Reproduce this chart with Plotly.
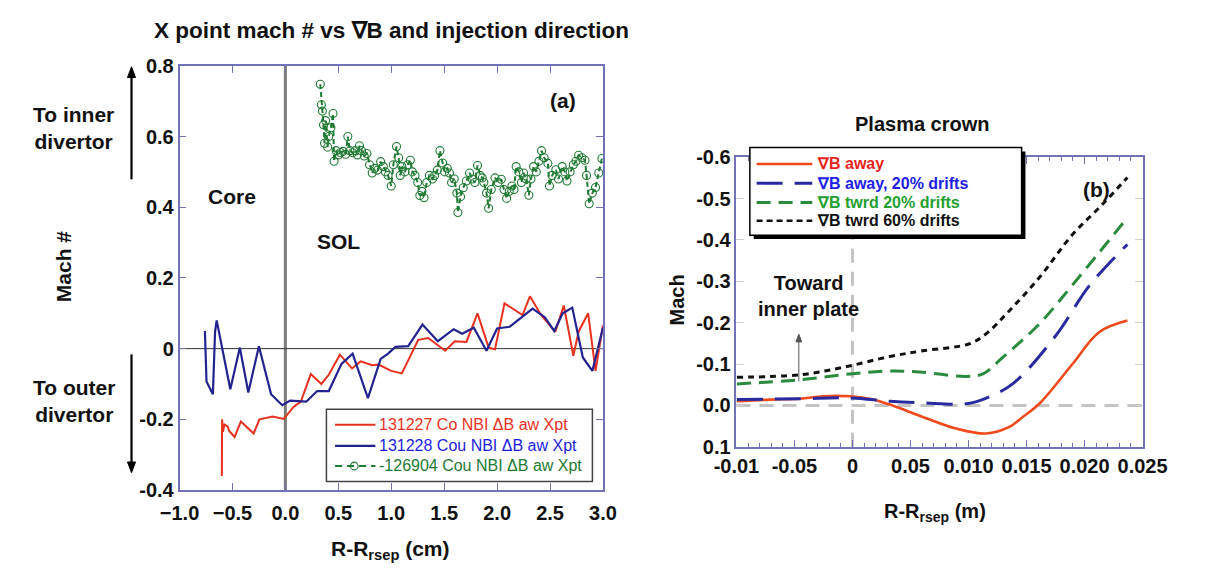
import plotly.graph_objects as go

# ---------------- data: panel (a) X-point Mach number ----------------
red_x = [-0.60, -0.598, -0.59, -0.575, -0.545, -0.53, -0.48, -0.42, -0.30, -0.245,
         -0.12, -0.015, 0.077, 0.146, 0.24, 0.34, 0.41, 0.515, 0.63, 0.71, 0.82,
         0.88, 1.0, 1.10, 1.255, 1.35, 1.51, 1.60, 1.71, 1.815, 1.92, 1.98, 2.07,
         2.24, 2.31, 2.42, 2.55, 2.63, 2.72, 2.77, 2.86, 2.93, 3.0]
red_y = [-0.36, -0.20, -0.235, -0.215, -0.22, -0.233, -0.25, -0.206, -0.24, -0.20,
         -0.192, -0.199, -0.165, -0.15, -0.072, -0.10, -0.074, -0.017, -0.056, -0.036, -0.047,
         -0.045, -0.063, -0.07, 0.025, 0.03, -0.006, 0.021, 0.019, 0.10, 0.003, -0.002, 0.128,
         0.095, 0.148, 0.093, 0.048, 0.122, -0.02, 0.048, 0.10, -0.063, 0.066]

blue_x = [-0.76, -0.755, -0.745, -0.685, -0.664, -0.649, -0.52, -0.43, -0.35, -0.25,
          -0.135, -0.03, 0.046, 0.197, 0.30, 0.41, 0.53, 0.635, 0.78, 0.90, 0.97,
          1.04, 1.16, 1.295, 1.44, 1.59, 1.67, 1.78, 1.90, 2.0, 2.12, 2.335, 2.45,
          2.54, 2.62, 2.71, 2.81, 2.90, 3.0]
blue_y = [0.05, 0.012, -0.093, -0.129, 0.048, 0.08, -0.115, 0.003, -0.124, 0.007,
          -0.129, -0.16, -0.147, -0.15, -0.12, -0.12, -0.043, -0.014, -0.14, -0.029, -0.014,
          0.005, 0.007, 0.068, 0.021, 0.055, 0.042, 0.059, -0.006, 0.057, 0.062, 0.113, 0.089,
          0.05, 0.10, 0.116, -0.025, -0.063, 0.06]

green_x = [0.33, 0.34, 0.35, 0.36, 0.37, 0.38, 0.40, 0.41, 0.43, 0.45,
           0.46, 0.48, 0.50, 0.52, 0.545, 0.57, 0.59, 0.61, 0.635, 0.66,
           0.68, 0.70, 0.72, 0.745, 0.77, 0.795, 0.82, 0.845, 0.87, 0.90,
           0.925, 0.945, 0.97, 1.00, 1.02, 1.05, 1.07, 1.085, 1.10, 1.13,
           1.155, 1.18, 1.20, 1.225, 1.25, 1.27, 1.29, 1.31, 1.335, 1.36,
           1.39, 1.41, 1.435, 1.46, 1.485, 1.505, 1.53, 1.55, 1.57, 1.595,
           1.62, 1.63, 1.655, 1.68, 1.71, 1.74, 1.765, 1.79, 1.815, 1.84,
           1.86, 1.875, 1.90, 1.92, 1.945, 1.98, 2.01, 2.04, 2.065, 2.09,
           2.115, 2.14, 2.16, 2.18, 2.205, 2.23, 2.25, 2.275, 2.30, 2.32,
           2.345, 2.37, 2.395, 2.42, 2.445, 2.48, 2.495, 2.52, 2.555, 2.58,
           2.615, 2.64, 2.66, 2.69, 2.72, 2.745, 2.77, 2.80, 2.83, 2.845,
           2.87, 2.90, 2.93, 2.96, 2.99]
green_y = [0.748, 0.690, 0.672, 0.633, 0.581, 0.645, 0.570, 0.600, 0.625, 0.665,
           0.530, 0.560, 0.548, 0.555, 0.558, 0.550, 0.600, 0.560, 0.554, 0.560,
           0.548, 0.574, 0.560, 0.545, 0.552, 0.520, 0.497, 0.510, 0.505, 0.529,
           0.515, 0.500, 0.490, 0.460, 0.520, 0.572, 0.540, 0.490, 0.515, 0.500,
           0.520, 0.533, 0.500, 0.490, 0.470, 0.433, 0.445, 0.427, 0.470, 0.490,
           0.480, 0.490, 0.505, 0.560, 0.525, 0.500, 0.510, 0.497, 0.470, 0.480,
           0.440, 0.385, 0.430, 0.455, 0.474, 0.497, 0.480, 0.470, 0.518, 0.490,
           0.483, 0.470, 0.440, 0.397, 0.450, 0.483, 0.470, 0.479, 0.450, 0.425,
           0.445, 0.460, 0.450, 0.515, 0.500, 0.470, 0.497, 0.480, 0.434, 0.480,
           0.515, 0.500, 0.530, 0.560, 0.540, 0.524, 0.460, 0.490, 0.506, 0.480,
           0.515, 0.500, 0.474, 0.500, 0.520, 0.530, 0.547, 0.540, 0.533, 0.490,
           0.410, 0.440, 0.456, 0.497, 0.538]

a_xticks = [-1.0, -0.5, 0.0, 0.5, 1.0, 1.5, 2.0, 2.5, 3.0]
a_yticks = [-0.4, -0.2, 0.0, 0.2, 0.4, 0.6, 0.8]
a_yticktext = ["-0.4", "-0.2", "0", "0.2", "0.4", "0.6", "0.8"]
a_legend = ["131227 Co NBI \u0394B aw Xpt",
            "131228 Cou NBI \u0394B aw Xpt",
            "-126904 Cou NBI \u0394B aw Xpt"]

# ---------------- data: panel (b) plasma crown Mach ----------------
away_x = [-0.00997, -0.0071, -0.00453, -0.00252, -0.00023, 0.00149, 0.00321, 0.00607,
          0.00894, 0.01151, 0.01352, 0.01467, 0.0161, 0.01896, 0.02125, 0.02369]
away_y = [-0.010, -0.014, -0.016, -0.022, -0.022, -0.016, -0.002, 0.028,
          0.056, 0.068, 0.052, 0.028, -0.004, -0.100, -0.177, -0.205]

away20_x = [-0.00997, -0.00453, -0.00023, 0.00321, 0.00607, 0.0098, 0.01137,
            0.0138, 0.01753, 0.0204, 0.02369]
away20_y = [-0.014, -0.016, -0.018, -0.010, -0.006, -0.004, -0.016,
            -0.052, -0.169, -0.289, -0.389]

twrd20_x = [-0.00997, -0.00453, -0.00023, 0.00321, 0.00607, 0.0098, 0.01123,
            0.01295, 0.0161, 0.01925, 0.02369]
twrd20_y = [-0.052, -0.062, -0.076, -0.083, -0.080, -0.070, -0.076,
            -0.116, -0.197, -0.301, -0.454]

twrd60_x = [-0.00997, -0.00453, -0.0008, 0.00321, 0.00607, 0.01008, 0.01151,
            0.01352, 0.0161, 0.01896, 0.02154, 0.02369]
twrd60_y = [-0.068, -0.074, -0.092, -0.118, -0.132, -0.149, -0.173,
            -0.229, -0.309, -0.413, -0.486, -0.551]

b_xticks = [-0.01, -0.005, 0.0, 0.005, 0.01, 0.015, 0.02, 0.025]
b_xticktext = ["-0.01", "-0.05", "0", "0.05", "0.010", "0.015", "0.020", "0.025"]
b_yticks = [-0.6, -0.5, -0.4, -0.3, -0.2, -0.1, 0.0, 0.1]
b_yticktext = ["-0.6", "-0.5", "-0.4", "-0.3", "-0.2", "-0.1", "0.0", "0.1"]
b_legend = ["\u2207B away", "\u2207B away, 20% drifts",
            "\u2207B twrd 20% drifts", "\u2207B twrd 60% drifts"]

# ---------------- styling ----------------
W, H = 1206, 578
FONT = "Liberation Sans, Arial, sans-serif"
FRAME = "#7272b8"

RED_A, BLUE_A, GREEN_A = "#e8301f", "#23238f", "#1f7a32"
RED_B, BLUE_B, GREEN_B, BLACK_B = "#f04a1c", "#2a2aa0", "#2a8a3e", "#111111"


def px(x):
    return x / W


def py(y):
    return 1 - y / H


fig = go.Figure()

# panel (a) traces
fig.add_trace(go.Scatter(x=red_x, y=red_y, mode="lines", name=a_legend[0],
                         line=dict(color=RED_A, width=2), xaxis="x", yaxis="y"))
fig.add_trace(go.Scatter(x=blue_x, y=blue_y, mode="lines", name=a_legend[1],
                         line=dict(color=BLUE_A, width=2.2), xaxis="x", yaxis="y"))
fig.add_trace(go.Scatter(x=green_x, y=green_y, mode="lines+markers", name=a_legend[2],
                         line=dict(color=GREEN_A, width=2, dash="5px,3px"),
                         marker=dict(symbol="circle-open", size=8, color=GREEN_A,
                                     line=dict(width=1.1, color=GREEN_A)),
                         xaxis="x", yaxis="y"))

# panel (b) traces
fig.add_trace(go.Scatter(x=away_x, y=away_y, mode="lines", name=b_legend[0],
                         line=dict(color=RED_B, width=2.6, shape="spline"), xaxis="x2", yaxis="y2"))
fig.add_trace(go.Scatter(x=away20_x, y=away20_y, mode="lines", name=b_legend[1],
                         line=dict(color=BLUE_B, width=3, dash="26px,12px", shape="spline"),
                         xaxis="x2", yaxis="y2"))
fig.add_trace(go.Scatter(x=twrd20_x, y=twrd20_y, mode="lines", name=b_legend[2],
                         line=dict(color=GREEN_B, width=3, dash="14px,8px", shape="spline"),
                         xaxis="x2", yaxis="y2"))
fig.add_trace(go.Scatter(x=twrd60_x, y=twrd60_y, mode="lines", name=b_legend[3],
                         line=dict(color=BLACK_B, width=3, dash="6px,5px", shape="spline"),
                         xaxis="x2", yaxis="y2"))

axis_common = dict(showline=True, linecolor=FRAME, linewidth=1.5, mirror="allticks",
                   ticks="inside", showgrid=False, zeroline=False,
                   tickfont=dict(family=FONT, size=20, color="#111", weight="bold"))

fig.update_layout(
    width=W, height=H, margin=dict(l=0, r=0, t=0, b=0),
    paper_bgcolor="white", plot_bgcolor="white", showlegend=False,
    xaxis=dict(domain=[px(163), px(604)], range=[-1.0, 3.0], tickvals=a_xticks,
               tickformat=".1f", ticklen=7, tickcolor=FRAME, anchor="y",
               ticklabelstandoff=4, **axis_common),
    yaxis=dict(domain=[py(498), py(57)], range=[-0.4, 0.8], tickvals=a_yticks,
               ticktext=a_yticktext, ticklen=7, tickcolor=FRAME, anchor="x", **axis_common),
    xaxis2=dict(domain=[px(743), px(1166)], range=[-0.01, 0.025], tickvals=b_xticks,
                ticktext=b_xticktext, ticklen=7, tickcolor=FRAME, anchor="y2",
                minor=dict(dtick=0.001, ticklen=4, tickcolor=FRAME, ticks="inside"),
                **axis_common),
    yaxis2=dict(domain=[py(453), py(152)], range=[0.1, -0.6], tickvals=b_yticks,
                ticktext=b_yticktext, ticklen=8, tickcolor="#d0d0d0", anchor="x2",
                **axis_common),
)

shapes = []
# panel (a) reference lines
shapes.append(dict(type="line", xref="x", yref="paper", x0=0, x1=0,
                   y0=py(498), y1=py(57), line=dict(color="#7a7a7a", width=3), layer="below"))
shapes.append(dict(type="line", xref="paper", yref="y", x0=px(163), x1=px(604),
                   y0=0, y1=0, line=dict(color="#333333", width=1), layer="below"))
# panel (b) reference lines
shapes.append(dict(type="line", xref="x2", yref="paper", x0=0, x1=0,
                   y0=py(453), y1=py(152), line=dict(color="#c4c4c4", width=3, dash="14px,9px"),
                   layer="below"))
shapes.append(dict(type="line", xref="paper", yref="y2", x0=px(743), x1=px(1166),
                   y0=0, y1=0, line=dict(color="#c4c4c4", width=3, dash="14px,9px"),
                   layer="below"))

# panel (a) legend box
shapes.append(dict(type="rect", xref="paper", yref="paper", x0=px(316), x1=px(593),
                   y0=py(489), y1=py(414), fillcolor="white",
                   line=dict(color="#444444", width=1.5), layer="above"))
a_rows = [430, 452, 473]
a_styles = [dict(color=RED_A, width=2), dict(color=BLUE_A, width=2.2),
            dict(color=GREEN_A, width=2, dash="7px,5px")]
a_cols = [RED_A, "#1d1de0", GREEN_A]
for yy, st in zip(a_rows, a_styles):
    shapes.append(dict(type="line", xref="paper", yref="paper", x0=px(325), x1=px(367),
                       y0=py(yy), y1=py(yy), line=st, layer="above"))
shapes.append(dict(type="circle", xref="paper", yref="paper", x0=px(341), x1=px(349),
                   y0=py(477), y1=py(469), line=dict(color=GREEN_A, width=1.1), layer="above"))

# panel (b) legend box with drop shadow
shapes.append(dict(type="rect", xref="paper", yref="paper", x0=px(761), x1=px(1044),
                   y0=py(237), y1=py(146), fillcolor="black", line=dict(width=0), layer="above"))
shapes.append(dict(type="rect", xref="paper", yref="paper", x0=px(757), x1=px(1040),
                   y0=py(233), y1=py(142), fillcolor="white",
                   line=dict(color="black", width=1.5), layer="above"))
b_rows = [159, 179, 199, 218]
b_styles = [dict(color=RED_B, width=2.6), dict(color=BLUE_B, width=3, dash="26px,12px"),
            dict(color=GREEN_B, width=3, dash="14px,8px"),
            dict(color=BLACK_B, width=2.6, dash="6px,4px")]
b_cols = ["#e8251c", "#2020e6", "#22a030", "#111111"]
for yy, st in zip(b_rows, b_styles):
    shapes.append(dict(type="line", xref="paper", yref="paper", x0=px(764), x1=px(822),
                       y0=py(yy), y1=py(yy), line=st, layer="above"))


def arrow(x, y_tail, y_tip, color, width, head=7):
    """Vertical arrow drawn as a shaft plus a filled triangular head."""
    d = 1 if y_tip > y_tail else -1
    base = y_tip - d * head * 1.6
    shapes.append(dict(type="line", xref="paper", yref="paper", x0=px(x), x1=px(x),
                       y0=py(y_tail), y1=py(base), line=dict(color=color, width=width)))
    path = "M {:.5f} {:.5f} L {:.5f} {:.5f} L {:.5f} {:.5f} Z".format(
        px(x - head * 0.6), py(base), px(x + head * 0.6), py(base), px(x), py(y_tip))
    shapes.append(dict(type="path", xref="paper", yref="paper", path=path,
                       fillcolor=color, line=dict(color=color, width=1)))


arrow(113, 175, 58, "black", 2.2)
arrow(113, 357, 480, "black", 2.2)
arrow(808, 385, 336, "#555555", 1, head=5)

fig.update_layout(shapes=shapes)

ann = []


def text(x, y, s, size=19, color="#111", bold=True, angle=0, xanchor="center"):
    ann.append(dict(x=px(x), y=py(y), xref="paper", yref="paper", text=s, showarrow=False,
                    xanchor=xanchor, yanchor="middle", textangle=angle,
                    font=dict(family=FONT, size=size, color=color,
                              weight="bold" if bold else "normal")))


# titles and labels
text(384, 20, "X point mach # vs \u2207B and injection direction", size=22.5)
text(383, 560, "R-R<sub>rsep</sub> (cm)", size=21)
text(43, 265, "Mach #", size=21, angle=-90)
text(218, 193, "Core", size=21)
text(329, 240, "SOL", size=21)
text(562, 93, "(a)", size=21)
text(53, 122, "To inner<br>divertor", size=21)
text(53, 405, "To outer<br>divertor", size=21)

text(937, 117, "Plasma crown", size=20)
text(950, 521, "R-R<sub>rsep</sub> (m)", size=20)
text(681, 300, "Mach", size=20, angle=-90)
text(1118, 186, "(b)", size=21)
text(818, 296, "Toward<br>inner plate", size=20)

# legend labels
for yy, s, c in zip(a_rows, a_legend, a_cols):
    text(369, yy, s, size=16, color=c, bold=False, xanchor="left")
for yy, s, c in zip(b_rows, b_legend, b_cols):
    text(825, yy, s, size=16, color=c, xanchor="left")

fig.update_layout(annotations=ann)

fig.write_html("out.html")
